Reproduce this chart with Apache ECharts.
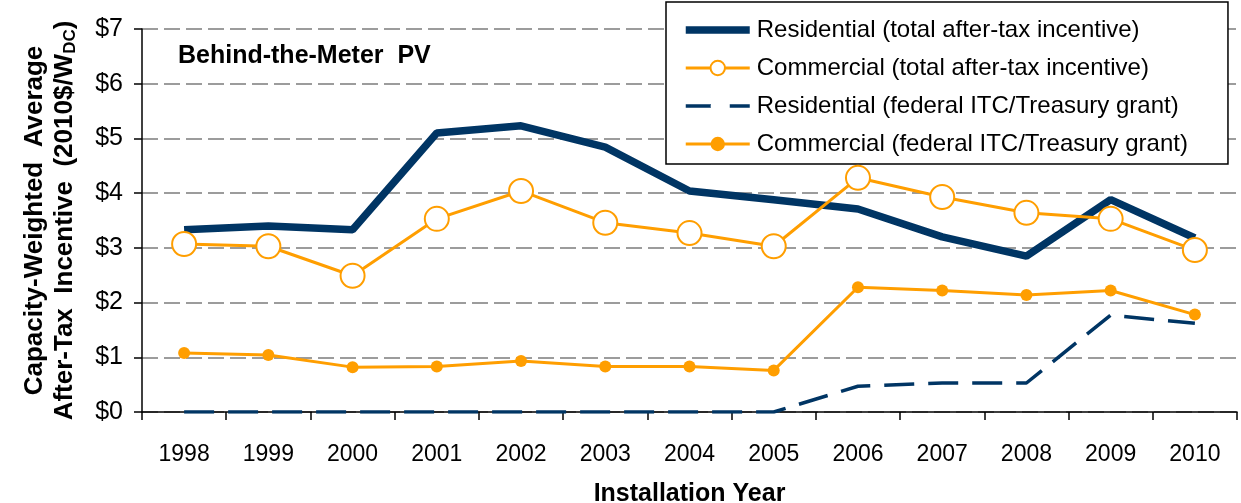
<!DOCTYPE html>
<html>
<head>
<meta charset="utf-8">
<title>Behind-the-Meter PV incentives</title>
<script src="https://cdn.jsdelivr.net/npm/echarts@6/dist/echarts.min.js"></script>
<style>
  html, body { margin: 0; padding: 0; background: #fff; }
  #chart { width: 1241px; height: 503px; }
</style>
</head>
<body>
<div id="chart"></div>
<script>
/* ---------- data ---------- */
const years = ['1998', '1999', '2000', '2001', '2002', '2003', '2004',
  '2005', '2006', '2007', '2008', '2009', '2010'];

const resTotal = [3.33, 3.40, 3.33, 5.10, 5.23, 4.84, 4.04, 3.88, 3.71, 3.20, 2.85, 3.88, 3.18];
const comTotal = [3.07, 3.03, 2.49, 3.53, 4.04, 3.46, 3.27, 3.03, 4.28, 3.93, 3.64, 3.53, 2.96];
const resFederal = [0, 0, 0, 0, 0, 0, 0, 0, 0.47, 0.53, 0.53, 1.77, 1.62];
const comFederal = [1.08, 1.04, 0.82, 0.83, 0.93, 0.83, 0.83, 0.76, 2.28, 2.22, 2.14, 2.22, 1.78];

const seriesNames = [
  'Residential (total after-tax incentive)',
  'Commercial (total after-tax incentive)',
  'Residential (federal ITC/Treasury grant)',
  'Commercial (federal ITC/Treasury grant)',
];

/* ---------- styles ---------- */
const NAVY = '#003564';
const ORANGE = '#FF9E00';
const FONT = 'Liberation Sans, Arial, sans-serif';
const NO_MARK = { color: 'transparent', borderColor: 'transparent', borderWidth: 0 };
// thick solid bar for the legend (the slivers at top/bottom only fix the icon box)
const THICK_LINE_ICON = 'path://M0,0L64,0L64,0.01L0,0.01Z M0,5.3L64,5.3L64,12.7L0,12.7Z M0,17.99L64,17.99L64,18L0,18Z';

const chart = echarts.init(document.getElementById('chart'), null, { renderer: 'canvas' });

chart.setOption({
  animation: false,
  backgroundColor: '#fff',
  textStyle: { fontFamily: FONT, color: '#000' },
  grid: { left: 142, right: 4, top: 29, bottom: 91, containLabel: false, outerBoundsMode: 'none' },
  graphic: [
    {
      type: 'text',
      left: 178,
      top: 44,
      style: {
        text: 'Behind-the-Meter  PV',
        font: 'bold 25px ' + FONT,
        fill: '#000',
      },
    },
  ],
  legend: {
    orient: 'vertical',
    left: 666,
    top: 2,
    padding: [16, 40, 8, 18],
    itemGap: 14,
    itemWidth: 64,
    itemHeight: 18,
    backgroundColor: '#fff',
    borderColor: '#000',
    borderWidth: 1.5,
    borderRadius: 0,
    data: [
      { name: seriesNames[0], icon: THICK_LINE_ICON, itemStyle: { color: NAVY, borderWidth: 0 } },
      { name: seriesNames[1] },
      { name: seriesNames[2], itemStyle: NO_MARK },
      { name: seriesNames[3] },
    ],
    lineStyle: { width: 'inherit' },
    textStyle: { fontFamily: FONT, fontSize: 24, color: '#000', padding: [0, 0, 0, 2] },
  },
  xAxis: {
    type: 'category',
    data: years,
    boundaryGap: true,
    axisLine: { lineStyle: { color: '#000', width: 1.5 } },
    axisTick: { show: true, length: 8, inside: false, lineStyle: { color: '#000', width: 1.5 } },
    axisLabel: { fontSize: 23, color: '#000', margin: 31, fontFamily: FONT },
    name: 'Installation Year',
    nameLocation: 'middle',
    nameGap: 70,
    nameTextStyle: { fontSize: 25, fontWeight: 'bold', color: '#000', fontFamily: FONT },
    splitLine: { show: false },
  },
  yAxis: {
    type: 'value',
    min: 0,
    max: 7,
    interval: 1,
    axisLine: { show: true, lineStyle: { color: '#000', width: 1.5 } },
    axisTick: { show: true, length: 8, lineStyle: { color: '#000', width: 1.5 } },
    axisLabel: {
      fontSize: 25,
      color: '#000',
      margin: 19,
      fontFamily: FONT,
      formatter: (v) => '$' + v,
    },
    splitLine: {
      show: true,
      lineStyle: { color: '#9c9c9c', width: 2, type: [16, 6] },
    },
    name: '{t|Capacity-Weighted  Average}\n{t|After-Tax  Incentive  (2010$/W}{s|DC}{t|)}',
    nameLocation: 'middle',
    nameRotate: 90,
    nameGap: 62,
    nameTextStyle: {
      rich: {
        t: { fontSize: 26, fontWeight: 'bold', color: '#000', fontFamily: FONT, lineHeight: 30 },
        s: { fontSize: 17, fontWeight: 'bold', color: '#000', fontFamily: FONT, lineHeight: 30, padding: [10, 0, 0, 0] },
      },
    },
  },
  series: [
    {
      name: seriesNames[0],
      type: 'line',
      data: resTotal,
      showSymbol: false,
      z: 3,
      lineStyle: { color: NAVY, width: 7.5 },
      itemStyle: NO_MARK,
    },
    {
      name: seriesNames[1],
      type: 'line',
      data: comTotal,
      symbol: 'circle',
      symbolSize: 24,
      z: 4,
      lineStyle: { color: ORANGE, width: 3 },
      itemStyle: { color: '#fff', borderColor: ORANGE, borderWidth: 2 },
    },
    {
      name: seriesNames[2],
      type: 'line',
      data: resFederal,
      showSymbol: false,
      z: 2,
      lineStyle: { color: NAVY, width: 3.5, type: [30, 14] },
      itemStyle: NO_MARK,
    },
    {
      name: seriesNames[3],
      type: 'line',
      data: comFederal,
      symbol: 'circle',
      symbolSize: 12,
      z: 4,
      lineStyle: { color: ORANGE, width: 3 },
      itemStyle: { color: ORANGE },
    },
  ],
});
</script>
</body>
</html>
